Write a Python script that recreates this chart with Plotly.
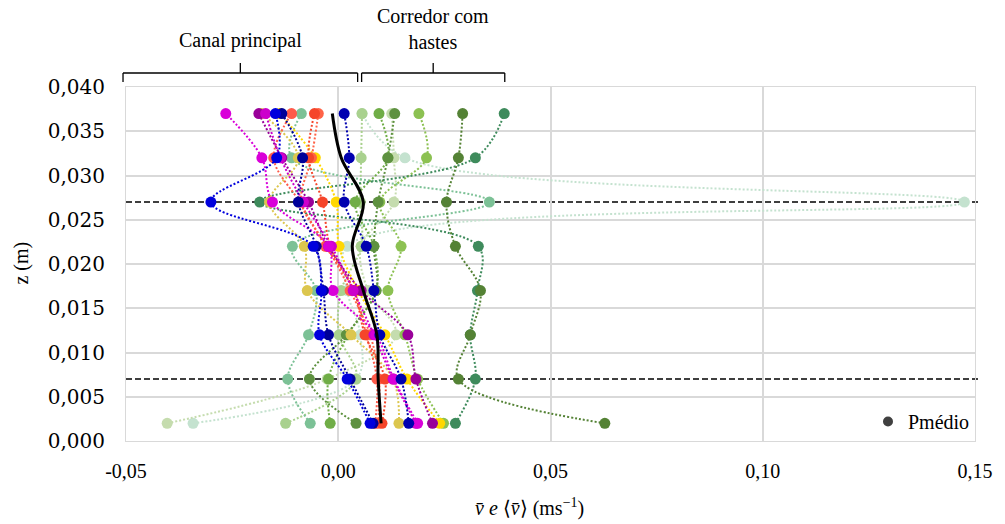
import plotly.graph_objects as go

# ---------------- data ----------------
z_levels = [0.002, 0.007, 0.012, 0.017, 0.022, 0.027, 0.032, 0.037]

# Canal principal
magenta_1 = [0.0187, 0.0131, 0.0089, -0.0012, -0.0023, -0.0155, -0.0180, -0.0265]
magenta_2 = [0.0183, 0.0129, 0.0084, 0.0035, -0.0016, -0.0082, -0.0136, -0.0171]
purple_1 = [0.0222, 0.0183, 0.0164, 0.0054, -0.0023, -0.0070, -0.0133, -0.0187]
blue_1 = [0.0075, 0.0021, -0.0044, -0.0040, -0.0059, -0.0300, -0.0145, -0.0148]
navy_1 = [0.0166, 0.0148, 0.0098, 0.0084, 0.0066, 0.0014, 0.0026, 0.0014]
navy_2 = [0.0082, 0.0028, -0.0023, -0.0035, -0.0052, -0.0094, -0.0084, -0.0133]
red_1 = [0.0087, 0.0091, 0.0066, 0.0037, -0.0030, -0.0091, -0.0152, -0.0110]
red_2 = [0.0103, 0.0110, 0.0063, 0.0037, -0.0019, -0.0037, -0.0070, -0.0056]
red_3 = [0.0094, 0.0096, 0.0075, 0.0028, -0.0026, -0.0087, -0.0063, -0.0047]
yellow_1 = [0.0239, 0.0162, 0.0110, 0.0047, 0.0002, -0.0005, -0.0054, -0.0138]
olive_1 = [0.0143, 0.0129, 0.0030, -0.0073, -0.0080, -0.0162, -0.0094, -0.0180]

# Corredor com hastes
mint_1 = [-0.0066, -0.0119, -0.0070, -0.0052, -0.0108, 0.0356, -0.0110, -0.0087]
darkgreen_1 = [0.0628, 0.0283, 0.0311, 0.0335, 0.0276, 0.0255, 0.0283, 0.0293]
teal_1 = [0.0276, 0.0323, 0.0311, 0.0328, 0.0330, -0.0185, 0.0323, 0.0391]
palemint_1 = [-0.0342, 0.0042, 0.0052, 0.0021, 0.0021, 0.1475, 0.0157, 0.0056]
palegreen_1 = [-0.0403, -0.0026, 0.0136, 0.0070, 0.0054, 0.0131, 0.0131, 0.0126]
lightgreen_1 = [-0.0124, 0.0042, 0.0002, 0.0007, 0.0054, 0.0052, 0.0054, 0.0056]
green_1 = [-0.0019, -0.0023, 0.0023, 0.0089, 0.0084, 0.0040, 0.0117, 0.0096]
midgreen_1 = [0.0248, 0.0187, 0.0157, 0.0117, 0.0148, 0.0098, 0.0208, 0.0190]
darkgreen_2 = [0.0042, -0.0068, 0.0019, 0.0089, 0.0084, 0.0094, 0.0117, 0.0133]

# mean profile
mean_profile = [0.0101, 0.0094, 0.0091, 0.0059, 0.0033, 0.0059, 0.0007, -0.0014]

x_tickvals = [-0.05, 0.00, 0.05, 0.10, 0.15]
x_ticktext = ["-0,05", "0,00", "0,05", "0,10", "0,15"]
y_tickvals = [0.000, 0.005, 0.010, 0.015, 0.020, 0.025, 0.030, 0.035, 0.040]
y_ticktext = ["0,000", "0,005", "0,010", "0,015", "0,020", "0,025", "0,030", "0,035", "0,040"]
dashed_levels = [0.027, 0.007]

series = [
    (palemint_1, "#C4E2CF"),
    (palegreen_1, "#C5DCAE"),
    (lightgreen_1, "#A9D18E"),
    (mint_1, "#7CC196"),
    (green_1, "#70AD47"),
    (midgreen_1, "#8CC152"),
    (darkgreen_2, "#5E9140"),
    (teal_1, "#3E8B5C"),
    (darkgreen_1, "#548235"),
    (olive_1, "#DCC64E"),
    (yellow_1, "#FFD700"),
    (red_3, "#FF6347"),
    (red_1, "#FF5A4A"),
    (red_2, "#F5452A"),
    (purple_1, "#990099"),
    (magenta_2, "#CC00CC"),
    (magenta_1, "#D900D9"),
    (navy_2, "#000099"),
    (navy_1, "#0000B0"),
    (blue_1, "#0000DD"),
]

SERIF = "Liberation Serif"

fig = go.Figure()
for vals, col in series:
    fig.add_trace(go.Scatter(
        x=vals, y=z_levels, mode="lines+markers",
        line=dict(color=col, width=2, dash="2px,2px", shape="spline", smoothing=1.0),
        marker=dict(color=col, size=11, line=dict(width=0)),
        showlegend=False, hoverinfo="skip",
    ))

fig.add_trace(go.Scatter(
    x=mean_profile, y=z_levels, mode="lines",
    line=dict(color="black", width=3, shape="spline", smoothing=1.0),
    showlegend=False, hoverinfo="skip",
))

fig.add_trace(go.Scatter(
    x=[None], y=[None], mode="markers", name="Pmédio",
    marker=dict(color="#404040", size=10), showlegend=True,
))

for lv in dashed_levels:
    fig.add_shape(type="line", xref="paper", x0=0, x1=1.006, yref="y", y0=lv, y1=lv,
                  line=dict(color="black", width=1.5, dash="6px,3px"), layer="between")

# braces
def brace(x0, x1, xm):
    yb, yt, ym = 82, 73, 63
    for xa, ya, xb, yb2 in [(x0, yb, x0, yt), (x0, yt, x1, yt), (x1, yt, x1, yb), (xm, yt, xm, ym)]:
        fig.add_shape(type="line", xref="paper", yref="paper",
                      x0=(xa - 126) / 854, x1=(xb - 126) / 854,
                      y0=(441 - ya) / 354, y1=(441 - yb2) / 354,
                      line=dict(color="black", width=1.3))

brace(123, 359, 241)
brace(363, 507, 435)

def px_annot(text, x, y, size=20, angle=0):
    fig.add_annotation(text=text, xref="paper", yref="paper",
                       x=(x - 126) / 854, y=(441 - y) / 354,
                       showarrow=False, textangle=angle,
                       font=dict(family=SERIF, size=size, color="black"),
                       xanchor="center", yanchor="middle")

px_annot("Canal principal", 241, 40)
px_annot("Corredor com<br>hastes", 435, 29)
px_annot("<i>v̄ e</i> ⟨<i>v̄</i>⟩ (ms<sup>−1</sup>)", 532, 507, size=20)
px_annot("z (m)", 20, 263, size=20, angle=-90)

fig.update_layout(
    width=1005, height=524,
    margin=dict(l=126, r=25, t=87, b=83),
    plot_bgcolor="white", paper_bgcolor="white",
    font=dict(family=SERIF, size=20, color="black"),
    legend=dict(x=1.0, y=0.0, xanchor="right", yanchor="bottom",
                bgcolor="rgba(0,0,0,0)", font=dict(family=SERIF, size=20, color="black"),
                itemwidth=30),
)
fig.update_xaxes(range=[-0.05, 0.15], tickvals=x_tickvals, ticktext=x_ticktext,
                 showgrid=True, gridcolor="#D9D9D9", gridwidth=2, zeroline=False,
                 showline=True, linecolor="#D9D9D9", linewidth=1, mirror=True,
                 ticks="", ticklabelstandoff=12,
                 tickfont=dict(family=SERIF, size=20, color="black"))
fig.update_yaxes(range=[0, 0.04], tickvals=y_tickvals, ticktext=y_ticktext,
                 showgrid=True, gridcolor="#D9D9D9", gridwidth=2, zeroline=False,
                 showline=True, linecolor="#D9D9D9", linewidth=1, mirror=True,
                 ticks="", ticklabelstandoff=16,
                 tickfont=dict(family="DejaVu Serif", size=20, color="black"))

fig.write_html("out.html", config={"displayModeBar": False},
               post_script="document.body.style.margin='0';document.body.style.overflow='hidden';")
